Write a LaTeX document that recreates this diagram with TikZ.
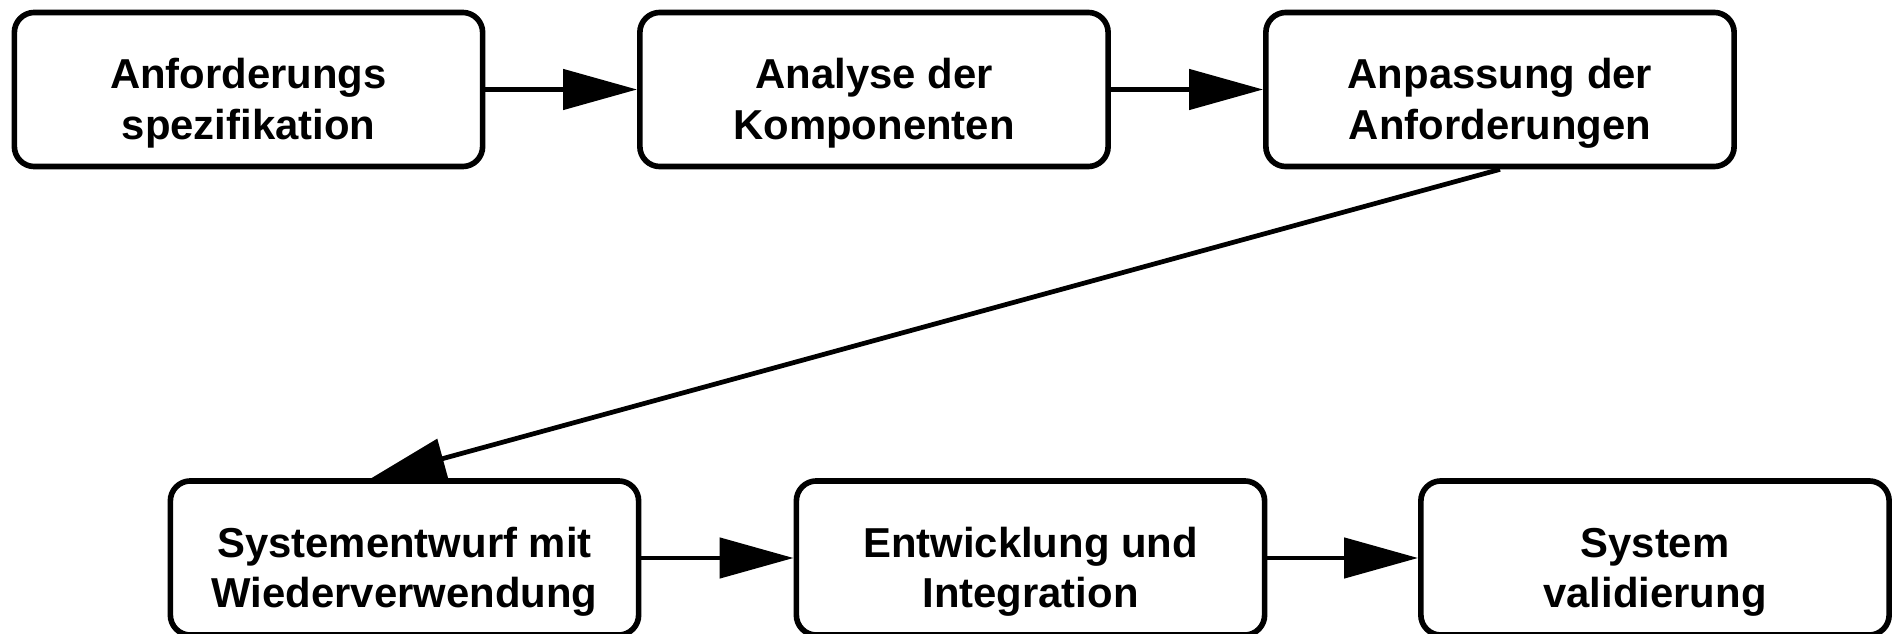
\documentclass[tikz,border=0pt]{standalone}
\usepackage{fontspec}
\setmainfont{Liberation Sans}
\usetikzlibrary{arrows.meta,calc}
\newcommand{\twolines}[2]{\raisebox{-0.25cm}[0pt][0pt]{\begin{tabular}{@{}c@{}}#1\\#2\end{tabular}}}
\begin{document}
\begin{tikzpicture}[x=0.01cm,y=-0.01cm,
  stepbox/.style={draw=black, line width=1.6pt, rounded corners=0.2cm,
    minimum width=4.68cm, minimum height=1.54cm,
    font=\fontsize{11.9}{14.4}\selectfont\bfseries, inner sep=0pt},
  flow/.style={line width=1.35pt, -{Triangle[length=0.74cm,width=0.40cm]}}]
\useasboundingbox (0,0) rectangle (1893,634);
\node[stepbox] (b1) at (248.5,89.5) {\twolines{Anforderungs}{spezifikation}};
\node[stepbox] (b2) at (874,89.5) {\twolines{Analyse der}{Komponenten}};
\node[stepbox] (b3) at (1500,89.5) {\twolines{Anpassung der}{Anforderungen}};
\node[stepbox] (b4) at (404.5,558) {\twolines{Systementwurf mit}{Wiederverwendung}};
\node[stepbox] (b5) at (1030.5,558) {\twolines{Entwicklung und}{Integration}};
\node[stepbox] (b6) at (1655,558) {\twolines{System}{validierung}};
\draw[flow] (b1) -- (b2);
\draw[flow] (b2) -- (b3);
\draw[flow] (b3.south) -- ($(b4.north west)!0.43!(b4.north east)$);
\draw[flow] (b4) -- (b5);
\draw[flow] (b5) -- (b6);
\end{tikzpicture}
\end{document}
